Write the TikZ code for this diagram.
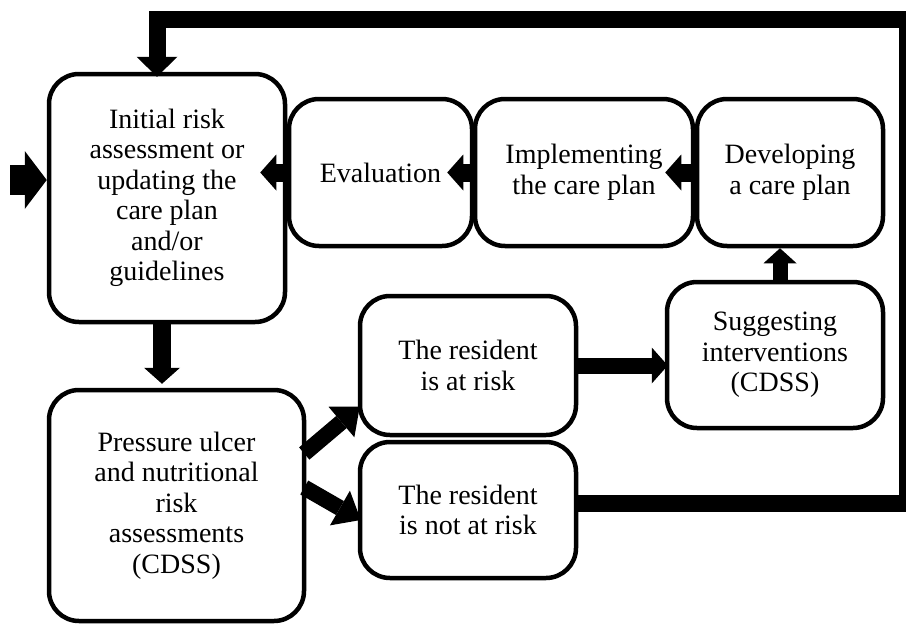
\documentclass[tikz,border=0pt]{standalone}
\usepackage{fontspec}
\setmainfont{Liberation Serif}
\usetikzlibrary{arrows.meta,calc}

\begin{document}
\begin{tikzpicture}[x=1pt,y=-1pt,
	box/.style={draw,line width=4.5pt,rounded corners=30pt,inner sep=0pt,align=center,font=\fontsize{28}{30.5}\selectfont},
	blk/.style={line width=18pt,-{Triangle[length=16pt,width=36pt,line width=0pt]}},
	diag/.style={line width=16pt,-{Triangle[length=24pt,width=40pt,line width=0pt]}},
	loopback/.style={line width=17pt,-{Triangle[length=20pt,width=41pt,line width=0pt]}},
	entry/.style={line width=30pt,-{Triangle[length=22pt,width=58pt,line width=0pt]}}]
	\useasboundingbox (0,0) rectangle (906,624);
	\clip (0,0) rectangle (906,624);
	\def\rowh{147pt}

	% boxes
	\node[box,minimum width=236pt,minimum height=248pt] (assess) at (167,198) {Initial risk\\assessment or\\updating the\\care plan\\and/or\\guidelines};
	\node[box,minimum width=183pt,minimum height=\rowh] (eval) at (380.5,172.5) {Evaluation};
	\node[box,minimum width=218pt,minimum height=\rowh] (impl) at (584,172.5) {Implementing\\the care plan};
	\node[box,minimum width=186pt,minimum height=\rowh] (dev) at (790,172.5) {Developing\\a care plan};
	\node[box,minimum width=216pt,minimum height=146pt] (sugg) at (775,355) {Suggesting\\interventions\\(CDSS)};
	\node[box,minimum width=216pt,minimum height=139pt] (risk) at (468,365.5) {The resident\\is at risk};
	\node[box,minimum width=216pt,minimum height=136pt] (norisk) at (468,510) {The resident\\is not at risk};
	\node[box,minimum width=255pt,minimum height=231pt] (press) at (176.5,505.5) {Pressure ulcer\\and nutritional\\risk\\assessments\\(CDSS)};

	% entree
	\coordinate (start) at (10,180);
	\draw[entry] (start) -- (assess.west |- start);

	% cycle
	\draw[blk] (assess.south -| 162,0) -- ($(press.north -| 162,0)+(0,-4)$);
	\draw[diag] ($(press.east)+(-2,-52)$) -- ($(risk.west)+(2,41)$);
	\draw[diag] ($(press.east)+(-2,-18)$) -- ($(norisk.west)+(3,10)$);
	\draw[blk,line width=16pt] (risk.east) -- ($(risk.east -| sugg.west)+(3,0)$);
	\draw[blk,line width=15pt,-{Triangle[length=15pt,width=33pt,line width=0pt]}] (sugg.north -| 780,0) -- (dev.south -| 780,0);
	\draw[blk] (dev.west) -- ($(impl.east)+(-30,0)$);
	\draw[blk] (impl.west) -- ($(eval.east)+(-27,0)$);
	\draw[blk] (eval.west) -- ($(assess.east |- eval.west)+(-27,0)$);

	% retour
	\draw[loopback] ($(norisk.east)+(0,-7)$) -- (907,503) -- (907,19) -- (157,19) -- ($(assess.north -| 157,0)+(0,5)$);
\end{tikzpicture}
\end{document}
